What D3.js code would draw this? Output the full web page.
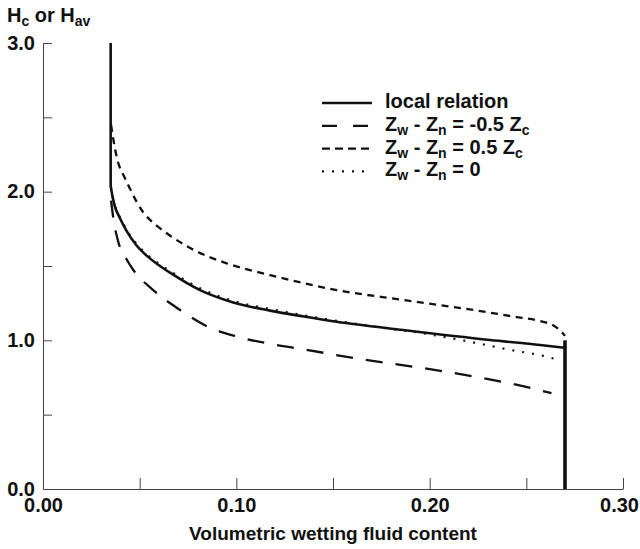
<!DOCTYPE html>
<html>
<head>
<meta charset="utf-8">
<script src="https://cdn.jsdelivr.net/npm/d3@7"></script>
<style>
  html, body { margin: 0; padding: 0; background: #fff; }
  svg { display: block; }
  text { font-family: "Liberation Sans", Arial, sans-serif; font-weight: bold; fill: #111; }
</style>
</head>
<body>
<svg id="chart" width="640" height="549"></svg>
<script>
// ---- data ----
const xTicks = [0, 0.05, 0.10, 0.15, 0.20, 0.25, 0.30];
const xTickLabels = ["0.00", "", "0.10", "", "0.20", "", "0.30"];
const yTicks = [0, 0.5, 1.0, 1.5, 2.0, 2.5, 3.0];
const yTickLabels = ["0.0", "", "1.0", "", "2.0", "", "3.0"];

// vertical limbs of the local relation
const localLeftLimb = [[0.035, 3.0], [0.035, 2.03]];
const localRightLimb = [[0.27, 1.0], [0.27, 0.0]];

const localRelation = [
  [0.0351, 2.03], [0.036, 1.965], [0.0372, 1.90], [0.0395, 1.83], [0.0433, 1.735],
  [0.048, 1.645], [0.0536, 1.57], [0.060, 1.505], [0.0657, 1.455], [0.0812, 1.338],
  [0.0984, 1.255], [0.1174, 1.200], [0.135, 1.160], [0.1519, 1.125], [0.1864, 1.069],
  [0.2312, 1.002], [0.2571, 0.969], [0.27, 0.95]
];
const zMinusHalf = [
  [0.0352, 1.94], [0.0364, 1.82], [0.039, 1.66], [0.043, 1.55], [0.0467, 1.473],
  [0.057, 1.338], [0.0709, 1.204], [0.0847, 1.095], [0.1002, 1.026], [0.118, 0.975],
  [0.1346, 0.940], [0.164, 0.874], [0.195, 0.816], [0.2278, 0.745], [0.2476, 0.693],
  [0.263, 0.645]
];
const zPlusHalf = [
  [0.0352, 2.45], [0.0364, 2.35], [0.038, 2.24], [0.0424, 2.09], [0.045, 2.02],
  [0.0485, 1.93], [0.0519, 1.86], [0.058, 1.78], [0.064, 1.72], [0.0777, 1.61],
  [0.095, 1.518], [0.1174, 1.439], [0.1519, 1.338], [0.1864, 1.271], [0.2295, 1.19],
  [0.2433, 1.16], [0.257, 1.13], [0.264, 1.10], [0.268, 1.06], [0.27, 1.03]
];
const zZero = [
  [0.0351, 2.03], [0.036, 1.965], [0.0372, 1.905], [0.0395, 1.835], [0.0433, 1.742],
  [0.048, 1.655], [0.0536, 1.58], [0.060, 1.515], [0.0657, 1.467], [0.0812, 1.35],
  [0.0984, 1.265], [0.12, 1.205], [0.15, 1.135], [0.17, 1.095], [0.20, 1.04],
  [0.2209, 0.99], [0.24, 0.94], [0.2588, 0.895], [0.265, 0.875]
];

const legendItems = [
  { key: "local", parts: [["local relation", false]] },
  { key: "minus", parts: [["Z", false], ["w", true], [" - Z", false], ["n", true], [" = -0.5 Z", false], ["c", true]] },
  { key: "plus",  parts: [["Z", false], ["w", true], [" - Z", false], ["n", true], [" = 0.5 Z", false], ["c", true]] },
  { key: "zero",  parts: [["Z", false], ["w", true], [" - Z", false], ["n", true], [" = 0", false]] }
];

// ---- styles ----
const styles = {
  local: { width: 2.6, dash: null },
  minus: { width: 2.3, dash: "17,13" },
  plus:  { width: 2.3, dash: "7,5.5" },
  zero:  { width: 2.2, dash: "2,8" }
};

const svg = d3.select("#chart");
svg.append("rect").attr("width", 640).attr("height", 549).attr("fill", "#fff");

const x = d3.scaleLinear().domain([0, 0.30]).range([43, 623]);
const y = d3.scaleLinear().domain([0, 3.0]).range([489, 43]);

// axes
const xAxis = d3.axisBottom(x).tickValues(xTicks)
  .tickFormat((d, i) => xTickLabels[i]).tickSizeInner(-11).tickSizeOuter(0).tickPadding(9);
const yAxis = d3.axisLeft(y).tickValues(yTicks)
  .tickFormat((d, i) => yTickLabels[i]).tickSizeInner(-9).tickSizeOuter(0).tickPadding(8);

const gx = svg.append("g").attr("transform", "translate(0,489)").call(xAxis);
const gy = svg.append("g").attr("transform", "translate(43,0)").call(yAxis);
[gx, gy].forEach(g => {
  g.selectAll("path.domain").attr("stroke", "#444").attr("stroke-width", 1);
  g.selectAll(".tick line").attr("stroke", "#444").attr("stroke-width", 1);
  g.selectAll(".tick text").attr("font-size", 20).attr("font-family", "Liberation Sans, Arial, sans-serif")
    .attr("font-weight", "bold").attr("fill", "#111");
});
gy.selectAll(".tick text").attr("dy", "0.3em");
gx.selectAll(".tick text").filter((d, i) => i === xTicks.length - 1).attr("dx", -4);

// axis titles
svg.append("text").attr("x", 333).attr("y", 540).attr("text-anchor", "middle")
  .attr("font-size", 19).text("Volumetric wetting fluid content");

const yt = svg.append("text").attr("x", 7).attr("y", 22).attr("font-size", 20);
yt.append("tspan").text("H");
yt.append("tspan").attr("font-size", 14).attr("dy", 4).text("c");
yt.append("tspan").attr("dy", -4).text(" or H");
yt.append("tspan").attr("font-size", 14).attr("dy", 4).text("av");

// curves
const curve = d3.line().x(d => x(d[0])).y(d => y(d[1])).curve(d3.curveMonotoneX);
const straight = d3.line().x(d => x(d[0])).y(d => y(d[1]));

function draw(data, st, gen) {
  svg.append("path").datum(data).attr("d", gen).attr("fill", "none")
    .attr("stroke", "#111").attr("stroke-width", st.width)
    .attr("stroke-dasharray", st.dash);
}
draw(zMinusHalf, styles.minus, curve);
draw(zPlusHalf, styles.plus, curve);
draw(zZero, styles.zero, curve);
draw(localRelation, styles.local, curve);
draw(localLeftLimb, { width: 2.6, dash: null }, straight);
draw(localRightLimb, { width: 3.6, dash: null }, straight);

// legend
const lg = svg.append("g");
legendItems.forEach((item, i) => {
  const base = 108 + i * 22.8;
  const st = styles[item.key];
  lg.append("line").attr("x1", 322).attr("x2", 372).attr("y1", base - 5).attr("y2", base - 5)
    .attr("stroke", "#111").attr("stroke-width", st.width)
    .attr("stroke-dasharray", item.key === "minus" ? "15,16" : item.key === "plus" ? "8,5" : st.dash);
  const t = lg.append("text").attr("x", 385).attr("y", base).attr("font-size", 20);
  let lowered = false;
  item.parts.forEach(([s, sub]) => {
    const ts = t.append("tspan").text(s);
    if (sub && !lowered) { ts.attr("font-size", 14).attr("dy", 4); lowered = true; }
    else if (!sub && lowered) { ts.attr("dy", -4); lowered = false; }
  });
});
</script>
</body>
</html>
